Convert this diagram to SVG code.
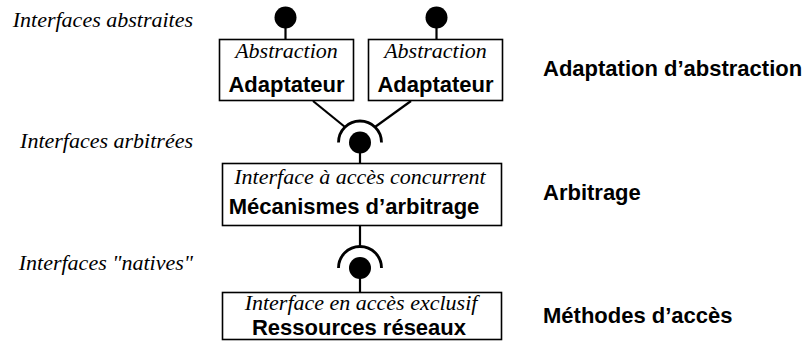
<svg xmlns="http://www.w3.org/2000/svg" width="805" height="351" viewBox="0 0 805 351">
<style>
.box{fill:#fff;stroke:#000;stroke-width:1.6}
.it{font-family:"Liberation Serif",serif;font-style:italic;font-size:22px;fill:#000}
.bd{font-family:"Liberation Sans",Arial,sans-serif;font-weight:bold;font-size:22px;fill:#000}
.ln{stroke:#000;stroke-width:2.2;fill:none}
.arc{stroke:#000;stroke-width:2.8;fill:none}
.ball{fill:#000}
</style>
<g id="labels-left">
<text class="it" x="193" y="27" text-anchor="end">Interfaces abstraites</text>
<text class="it" x="193" y="148" text-anchor="end">Interfaces arbitrées</text>
<text class="it" x="193" y="270" text-anchor="end">Interfaces "natives"</text>
</g>
<g id="labels-right">
<text class="bd" x="543" y="76">Adaptation d’abstraction</text>
<text class="bd" x="543" y="200">Arbitrage</text>
<text class="bd" x="543" y="323">Méthodes d’accès</text>
</g>
<g id="connectors">
<line class="ln" x1="285.5" y1="26" x2="285.5" y2="39"/>
<line class="ln" x1="436.5" y1="26" x2="436.5" y2="39"/>
<line class="ln" x1="313" y1="101" x2="345" y2="127"/>
<line class="ln" x1="411" y1="101" x2="375" y2="127"/>
<path class="arc" d="M338.5 142.5 A21.5 21.5 0 0 1 381.5 142.5"/>
<line class="ln" x1="360" y1="150" x2="360" y2="163"/>
<line class="ln" x1="360" y1="226" x2="360" y2="246"/>
<path class="arc" d="M338.5 268 A21.5 21.5 0 0 1 381.5 268"/>
<line class="ln" x1="360" y1="276" x2="360" y2="292"/>
<circle class="ball" cx="285.5" cy="17.5" r="11"/>
<circle class="ball" cx="436.5" cy="17.5" r="11"/>
<circle class="ball" cx="360" cy="142.5" r="11"/>
<circle class="ball" cx="360" cy="268" r="11"/>
</g>
<g id="adaptateur1">
<rect class="box" x="219.5" y="39.5" width="134" height="61"/>
<text class="it" x="286.5" y="58" text-anchor="middle">Abstraction</text>
<text class="bd" x="286.5" y="92" text-anchor="middle">Adaptateur</text>
</g>
<g id="adaptateur2">
<rect class="box" x="368.5" y="39.5" width="134" height="61"/>
<text class="it" x="435.5" y="58" text-anchor="middle">Abstraction</text>
<text class="bd" x="435.5" y="92" text-anchor="middle">Adaptateur</text>
</g>
<g id="arbitrage">
<rect class="box" x="222.5" y="163.5" width="279" height="62"/>
<text class="it" x="360" y="184" text-anchor="middle">Interface à accès concurrent</text>
<text class="bd" x="354" y="214" text-anchor="middle">Mécanismes d’arbitrage</text>
</g>
<g id="ressources">
<rect class="box" x="222.5" y="292.5" width="279" height="47"/>
<text class="it" x="361" y="310" text-anchor="middle">Interface en accès exclusif</text>
<text class="bd" x="359" y="335" text-anchor="middle">Ressources réseaux</text>
</g>
</svg>
